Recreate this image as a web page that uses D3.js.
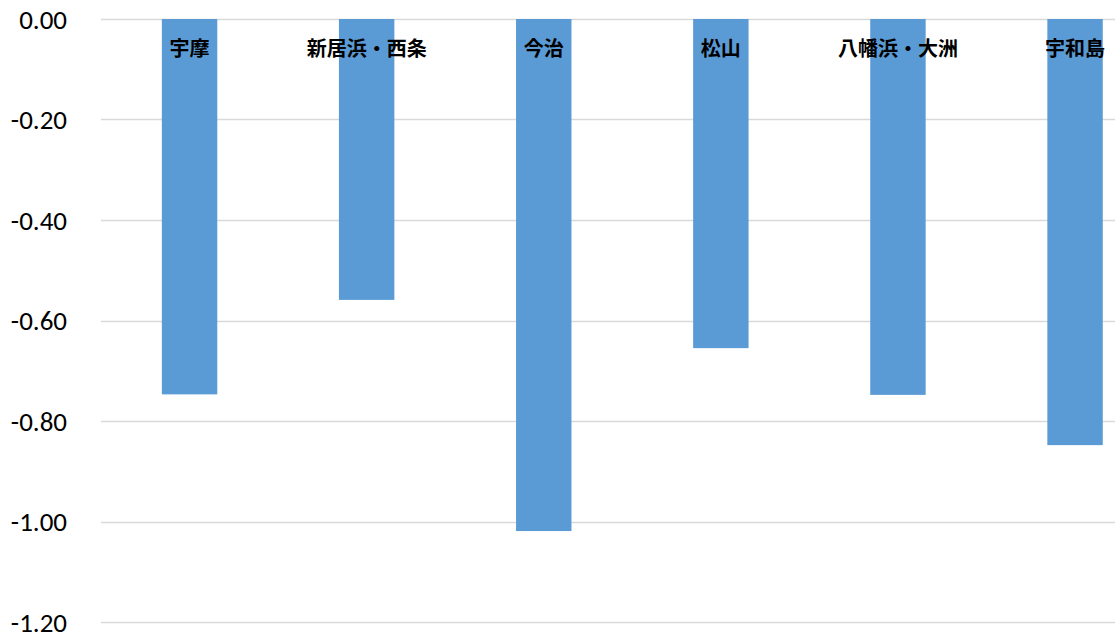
<!DOCTYPE html>
<html><head><meta charset="utf-8">
<script src="https://cdn.jsdelivr.net/npm/d3@7"></script>
<style>
html,body{margin:0;padding:0;background:#fff;overflow:hidden;}
svg{display:block;}
</style></head>
<body>
<script>
const categories = ["宇摩", "新居浜・西条", "今治", "松山", "八幡浜・大洲", "宇和島"];
const values = [-0.747, -0.559, -1.019, -0.655, -0.748, -0.848];
const yTicks = [0, -0.2, -0.4, -0.6, -0.8, -1.0, -1.2];

const W = 1115, H = 638;
const svg = d3.select("body").append("svg").attr("width", W).attr("height", H);

const left = 101, step = 177.1;
const x = d3.scaleBand().domain(categories)
  .range([left, left + step * categories.length])
  .paddingInner(0.687).paddingOuter(0.3435);
const y = d3.scaleLinear().domain([0, -1.2]).range([19, 622]);

// gridlines
svg.append("g").selectAll("line").data(yTicks).join("line")
  .attr("x1", left).attr("x2", W)
  .attr("y1", d => Math.round(y(d)) + 0.5).attr("y2", d => Math.round(y(d)) + 0.5)
  .attr("stroke", "#d9d9d9").attr("stroke-width", 1.3);

// y axis labels
const yAxis = d3.axisLeft(y).tickValues(yTicks).tickFormat(d3.format(".2f")).tickSize(0).tickPadding(0);
const ga = svg.append("g").attr("transform", "translate(67,0)").call(yAxis);
ga.select(".domain").remove();
ga.selectAll("text").attr("font-family", "Carlito, Lato, 'Liberation Sans', sans-serif")
  .attr("font-size", 27).attr("fill", "#000").attr("dy", "0.35em")
  .text(d => d3.format(".2f")(d).replace("−", "-"));

// bars
svg.append("g").selectAll("rect").data(categories).join("rect")
  .attr("x", d => x(d)).attr("width", x.bandwidth())
  .attr("y", y(0)).attr("height", (d, i) => y(values[i]) - y(0))
  .attr("fill", "#5B9BD5");

// category labels
svg.append("g").selectAll("text").data(categories).join("text")
  .attr("x", d => x(d) + x.bandwidth() / 2).attr("y", 49)
  .attr("text-anchor", "middle").attr("dy", "0.35em")
  .attr("font-family", "'Noto Sans CJK JP', sans-serif").attr("font-weight", "bold")
  .attr("font-size", 20).attr("fill", "#000")
  .text(d => d);
</script>
</body></html>
